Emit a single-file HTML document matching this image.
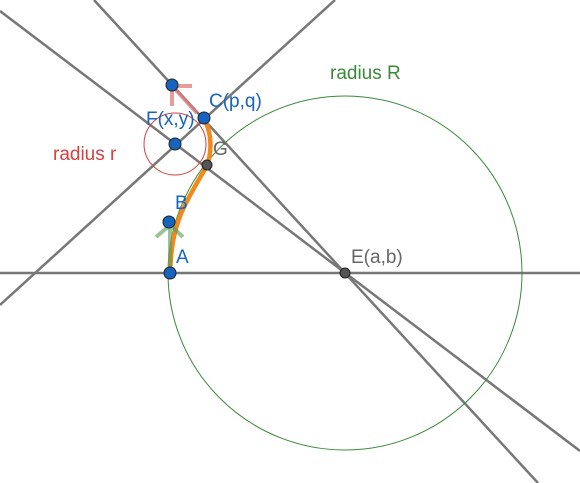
<!DOCTYPE html>
<html><head><meta charset="utf-8"><style>
html,body{margin:0;padding:0;background:#fff;}
svg{display:block;font-family:"Liberation Sans",sans-serif;}
</style></head><body>
<svg width="580" height="483" viewBox="0 0 580 483">
<g stroke="#777" stroke-width="2.5" fill="none">
<line x1="0" y1="273" x2="580" y2="273"/>
<line x1="94" y1="0" x2="538" y2="483"/>
<line x1="0" y1="11" x2="580" y2="451"/>
<line x1="0" y1="305" x2="335" y2="0"/>
</g>
<circle cx="345" cy="273" r="177" fill="none" stroke="#3a8a3a" stroke-width="1"/>
<circle cx="175" cy="144" r="31" fill="none" stroke="#d84040" stroke-width="1"/>
<path d="M170,273 C171,245 175,225 185,205 S205,170 207,165 S215,140 204,118" fill="none" stroke="#f08a1c" stroke-width="4.5"/>
<g stroke="#5a9a5a" stroke-width="4" opacity="0.6" fill="none">
<line x1="170" y1="273" x2="170" y2="225"/>
<path d="M156,237 L170,225 L183,237"/>
</g>
<g stroke="#e07a7a" stroke-width="4" opacity="0.75" fill="none">
<line x1="197" y1="113" x2="175" y2="89"/>
<path d="M172,106 L172,86 L192,86"/>
</g>
<g stroke="#222" stroke-width="1">
<circle cx="170" cy="273" r="6" fill="#1565c0"/>
<circle cx="169" cy="222" r="6" fill="#1565c0"/>
<circle cx="172" cy="85" r="6" fill="#1565c0"/>
<circle cx="175" cy="144" r="6" fill="#1565c0"/>
<circle cx="204" cy="118" r="6" fill="#1565c0"/>
<circle cx="207" cy="165" r="5" fill="#555"/>
<circle cx="345" cy="273" r="5" fill="#555"/>
</g>
<g font-size="19">
<text x="330" y="79" fill="#3a8a3a">radius R</text>
<text x="53" y="160" fill="#d84040">radius r</text>
<text x="146" y="125" fill="#1565c0">F(x,y)</text>
<text x="209" y="107" fill="#1565c0">C(p,q)</text>
<text x="213" y="155" fill="#666">G</text>
<text x="175" y="209" fill="#1565c0">B</text>
<text x="176" y="263" fill="#1565c0">A</text>
<text x="351" y="263" fill="#666">E(a,b)</text>
</g>
</svg>
</body></html>
